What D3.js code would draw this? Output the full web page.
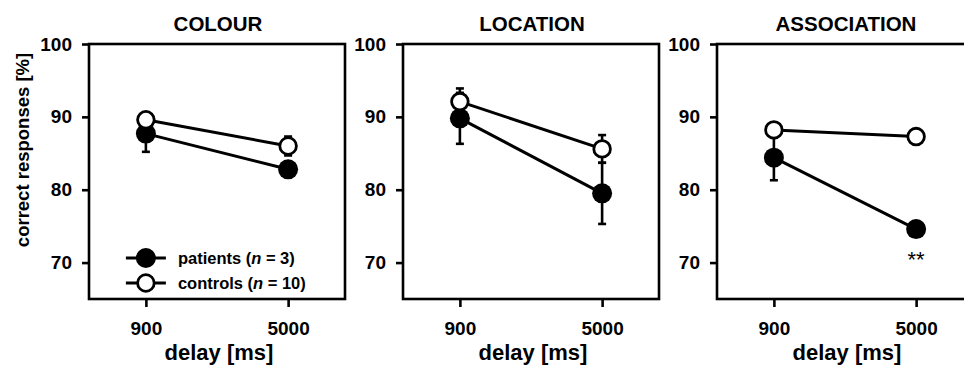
<!DOCTYPE html>
<html>
<head>
<meta charset="utf-8">
<script src="https://cdn.jsdelivr.net/npm/d3@7"></script>
<style>
  html, body { margin: 0; padding: 0; background: #fff; }
  svg { display: block; font-family: "Liberation Sans", Arial, sans-serif; font-weight: bold; }
</style>
</head>
<body>
<div id="chart"></div>
<script>
// values
const panels = ['COLOUR', 'LOCATION', 'ASSOCIATION'];
const delays = ['900', '5000'];
const patientMean = [[87.7, 82.8], [89.8, 79.5], [84.4, 74.6]];
const patientSE   = [[2.5, 0.9], [3.5, 4.2], [3.1, 0.8]];
const controlMean = [[89.6, 86.0], [92.1, 85.6], [88.2, 87.3]];
const controlSE   = [[0.8, 1.3], [1.8, 1.9], [0.8, 0.7]];
const stars = [['', ''], ['', ''], ['', '**']];
const yTicks = [70, 80, 90, 100];
const yDomain = [65, 100];

const W = 964, H = 369;
const panelLeft = [89, 403, 717];
const pw = 256, plotTop = 44, plotBottom = 299;
const lw = 2.6;

const svg = d3.select('#chart').append('svg')
  .attr('width', W).attr('height', H);

const y = d3.scaleLinear().domain(yDomain).range([plotBottom, plotTop]);
const x = d3.scalePoint().domain(delays).range([0, pw]).padding(0.4);

panels.forEach((name, p) => {
  const g = svg.append('g').attr('transform', `translate(${panelLeft[p]},0)`);

  // title
  g.append('text')
    .attr('x', pw / 2 + 1).attr('y', 31)
    .attr('text-anchor', 'middle')
    .style('font-size', '20.5px')
    .text(name);

  // axes
  const yAxis = g.append('g')
    .call(d3.axisLeft(y).tickValues(yTicks).tickSize(7).tickPadding(10).tickSizeOuter(0));
  const xAxis = g.append('g')
    .attr('transform', `translate(0,${plotBottom})`)
    .call(d3.axisBottom(x).tickSize(8).tickPadding(15).tickSizeOuter(0));
  [yAxis, xAxis].forEach(a => {
    a.select('.domain').remove();
    a.selectAll('line').attr('stroke', '#000').attr('stroke-width', lw);
    a.selectAll('text')
      .attr('fill', '#000')
      .style('font-size', '19px')
      .style('font-family', '"Liberation Sans", Arial, sans-serif')
      .style('font-weight', 'bold');
  });

  // frame
  g.append('rect')
    .attr('x', 0).attr('y', plotTop)
    .attr('width', pw).attr('height', plotBottom - plotTop)
    .attr('fill', 'none').attr('stroke', '#000').attr('stroke-width', lw);

  // x label
  g.append('text')
    .attr('x', pw / 2 + 2).attr('y', 360)
    .attr('text-anchor', 'middle')
    .style('font-size', '22px')
    .text('delay [ms]');

  const pts = (mean, se) => delays.map((d, i) => ({ d, m: mean[p][i], s: se[p][i] }));
  const pat = pts(patientMean, patientSE);
  const con = pts(controlMean, controlSE);

  const line = d3.line().x(v => x(v.d)).y(v => y(v.m));
  [pat, con].forEach(s => {
    g.append('path').datum(s).attr('d', line)
      .attr('fill', 'none').attr('stroke', '#000').attr('stroke-width', 3);
  });

  // error bars
  [pat, con].forEach(s => {
    s.forEach(v => {
      const cx = x(v.d);
      g.append('line')
        .attr('x1', cx).attr('x2', cx)
        .attr('y1', y(v.m - v.s)).attr('y2', y(v.m + v.s))
        .attr('stroke', '#000').attr('stroke-width', lw);
      [v.m - v.s, v.m + v.s].forEach(e => {
        g.append('line')
          .attr('x1', cx - 4).attr('x2', cx + 4)
          .attr('y1', y(e)).attr('y2', y(e))
          .attr('stroke', '#000').attr('stroke-width', lw);
      });
    });
  });

  g.selectAll('circle.pat').data(pat).join('circle')
    .attr('class', 'pat')
    .attr('cx', v => x(v.d)).attr('cy', v => y(v.m))
    .attr('r', 10).attr('fill', '#000');

  g.selectAll('circle.con').data(con).join('circle')
    .attr('class', 'con')
    .attr('cx', v => x(v.d)).attr('cy', v => y(v.m))
    .attr('r', 8.3).attr('fill', '#fff')
    .attr('stroke', '#000').attr('stroke-width', 2.8);

  // significance marks
  pat.forEach((v, i) => {
    if (!stars[p][i]) return;
    g.append('text')
      .attr('x', x(v.d)).attr('y', y(v.m) + 38)
      .attr('text-anchor', 'middle')
      .style('font-size', '22px')
      .style('font-weight', 'normal')
      .text(stars[p][i]);
  });
});

// y label
svg.append('text')
  .attr('transform', 'translate(29,150) rotate(-90)')
  .attr('text-anchor', 'middle')
  .style('font-size', '18.5px')
  .text('correct responses [%]');

// legend in first panel
const legend = svg.append('g').attr('transform', `translate(${panelLeft[0]},0)`);
const legendItems = [
  { label: 'patients', n: '3', fill: '#000', y: 258 },
  { label: 'controls', n: '10', fill: '#fff', y: 283 }
];
legendItems.forEach(it => {
  const cx = x(delays[0]);
  legend.append('line')
    .attr('x1', cx - 20).attr('x2', cx + 20)
    .attr('y1', it.y).attr('y2', it.y)
    .attr('stroke', '#000').attr('stroke-width', 3);
  if (it.fill === '#000') {
    legend.append('circle').attr('cx', cx).attr('cy', it.y).attr('r', 10).attr('fill', '#000');
  } else {
    legend.append('circle').attr('cx', cx).attr('cy', it.y).attr('r', 8.3)
      .attr('fill', '#fff').attr('stroke', '#000').attr('stroke-width', 2.8);
  }
  const t = legend.append('text')
    .attr('x', cx + 32).attr('y', it.y + 6)
    .style('font-size', '16.5px');
  t.append('tspan').text(`${it.label} (`);
  t.append('tspan').style('font-style', 'italic').text('n');
  t.append('tspan').text(` = ${it.n})`);
});
</script>
</body>
</html>
